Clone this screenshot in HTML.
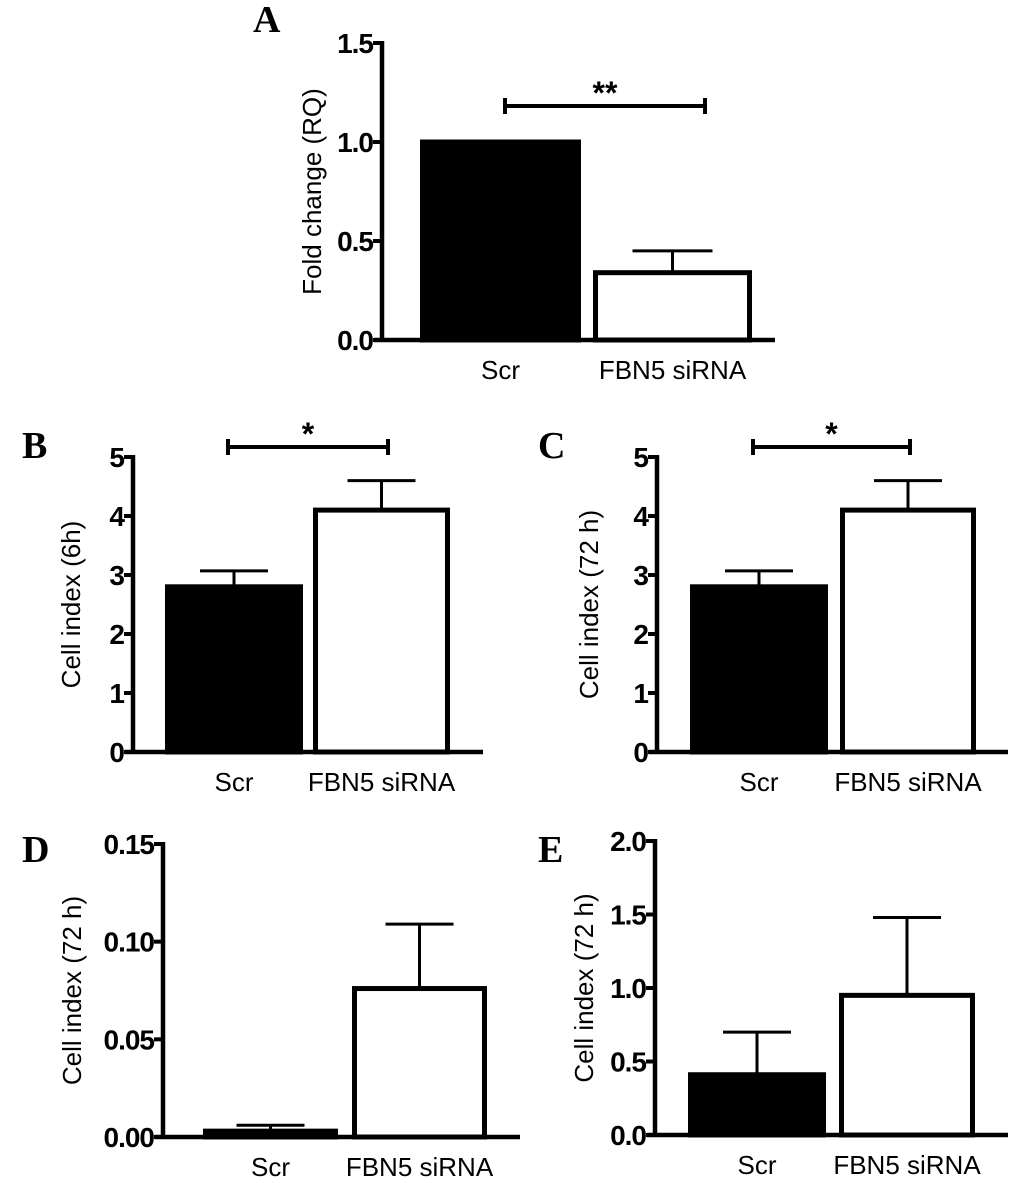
<!DOCTYPE html>
<html><head><meta charset="utf-8"><style>
html,body{margin:0;padding:0;background:#fff;}
svg{display:block;}
</style></head><body>
<svg id="fig" width="1033" height="1183" viewBox="0 0 1033 1183" xmlns="http://www.w3.org/2000/svg"></svg>
<script>
const categories = ["Scr", "FBN5 siRNA"];
const valuesA = [1.0, 0.34];
const errorsA = [0, 0.45];
const ticksA = ["0.0", "0.5", "1.0", "1.5"];
const valuesB = [2.8, 4.1];
const errorsB = [3.07, 4.6];
const ticksB = ["0", "1", "2", "3", "4", "5"];
const valuesC = [2.8, 4.1];
const errorsC = [3.07, 4.6];
const ticksC = ["0", "1", "2", "3", "4", "5"];
const valuesD = [0.003, 0.076];
const errorsD = [0.006, 0.109];
const ticksD = ["0.00", "0.05", "0.10", "0.15"];
const valuesE = [0.41, 0.95];
const errorsE = [0.70, 1.48];
const ticksE = ["0.0", "0.5", "1.0", "1.5", "2.0"];

const NS = "http://www.w3.org/2000/svg";
const svg = document.getElementById('fig');
function mk(tag, attrs, parent) {
  const e = document.createElementNS(NS, tag);
  for (const k in attrs) e.setAttribute(k, attrs[k]);
  (parent || svg).appendChild(e);
  return e;
}

function panel(cfg) {
  const g = mk('g', {});
  
  
  const ymax = parseFloat(cfg.ticks[cfg.ticks.length - 1]);
  const y = v => cfg.y0 + (cfg.y1 - cfg.y0) * (v / ymax);
  const L = mk('text', {x: cfg.lx, y: cfg.ly, 'font-family': 'Liberation Serif, serif', 'font-weight': 'bold', 'font-size': 38}, g);
  L.textContent = cfg.id;
  
  
  cfg.values.forEach((v, i) => {
    const [x0, x1] = cfg.bars[i];
    const cx = (x0 + x1) / 2;
    const err = cfg.errors[i];
    if (err > v) {
      const el = mk('line', {x1: cx, x2: cx, y1: y(v), y2: y(err), stroke: '#000', 'stroke-width': 3}, g);
      
      
      const cap = mk('line', {x1: cx - cfg.cap, x2: cx + cfg.cap, y1: y(err), y2: y(err), stroke: '#000', 'stroke-width': 3}, g);
      
      
    }
    const b = mk('rect', {x: x0 + 2.5, y: y(v), width: x1 - x0 - 5, height: cfg.y0 - y(v),
      fill: i === 0 ? '#000' : '#fff', stroke: '#000', 'stroke-width': 5}, g);
    
    
    const t = mk('text', {x: cx, y: cfg.y0 + 39, 'text-anchor': 'middle', 'font-family': 'Liberation Sans, sans-serif', 'font-size': 26}, g);
    t.textContent = categories[i];
    
    
  });
  const ya = mk('line', {x1: cfg.ax, x2: cfg.ax, y1: cfg.y1 - 2, y2: cfg.y0 + 2, stroke: '#000', 'stroke-width': 4.5}, g);
  
  
  const xa = mk('line', {x1: cfg.ax - 8, x2: cfg.xend, y1: cfg.y0, y2: cfg.y0, stroke: '#000', 'stroke-width': 4.5}, g);
  
  
  cfg.ticks.forEach(tl => {
    const v = parseFloat(tl);
    const tk = mk('line', {x1: cfg.ax - 9, x2: cfg.ax, y1: y(v), y2: y(v), stroke: '#000', 'stroke-width': 4}, g);
    
    
    const t = mk('text', {x: cfg.ax - 9, y: y(v) + 10, 'text-anchor': 'end', 'font-family': 'Liberation Sans, sans-serif', 'font-weight': 'bold', 'font-size': 28, 'letter-spacing': -1}, g);
    t.textContent = tl;
    
    
  });
  const yt = mk('text', {x: 0, y: 0, 'text-anchor': 'middle', 'font-family': 'Liberation Sans, sans-serif', 'font-size': 26,
    transform: `translate(${cfg.tx},${(cfg.y0 + cfg.y1) / 2}) rotate(-90)`}, g);
  yt.textContent = cfg.title;
  
  
  if (cfg.sig) {
    const s = cfg.sig;
    const sl = mk('path', {d: `M${s.x0},${s.y - 8}V${s.y + 8}M${s.x0},${s.y}H${s.x1}M${s.x1},${s.y - 8}V${s.y + 8}`, stroke: '#000', 'stroke-width': 4, fill: 'none'}, g);
    
    
    const st = mk('text', {x: (s.x0 + s.x1) / 2, y: s.y - 2, 'text-anchor': 'middle', 'font-family': 'Liberation Sans, sans-serif', 'font-weight': 'bold', 'font-size': 32}, g);
    st.textContent = s.label;
    
    
  }
}

panel({id: 'A', lx: 253, ly: 32, ax: 382, y0: 340, y1: 43, xend: 775, bars: [[420, 581], [593, 752]], cap: 40,
  values: valuesA, errors: errorsA, ticks: ticksA, title: 'Fold change (RQ)', tx: 321,
  sig: {x0: 505, x1: 705, y: 106, label: '**'}});
panel({id: 'B', lx: 22, ly: 458, ax: 133, y0: 752, y1: 457, xend: 483, bars: [[165, 303], [313, 450]], cap: 34,
  values: valuesB, errors: errorsB, ticks: ticksB, title: 'Cell index (6h)', tx: 80,
  sig: {x0: 228, x1: 388, y: 447, label: '*'}});
panel({id: 'C', lx: 538, ly: 458, ax: 657, y0: 752, y1: 457, xend: 1008, bars: [[690, 828], [840, 976]], cap: 34,
  values: valuesC, errors: errorsC, ticks: ticksC, title: 'Cell index (72 h)', tx: 598,
  sig: {x0: 753, x1: 910, y: 447, label: '*'}});
panel({id: 'D', lx: 22, ly: 862, ax: 163, y0: 1137, y1: 844, xend: 520, bars: [[203, 338], [352, 487]], cap: 34,
  values: valuesD, errors: errorsD, ticks: ticksD, title: 'Cell index (72 h)', tx: 81});
panel({id: 'E', lx: 538, ly: 862, ax: 655, y0: 1135, y1: 841, xend: 1008, bars: [[688, 826], [839, 975]], cap: 34,
  values: valuesE, errors: errorsE, ticks: ticksE, title: 'Cell index (72 h)', tx: 593});
</script>
</body></html>
